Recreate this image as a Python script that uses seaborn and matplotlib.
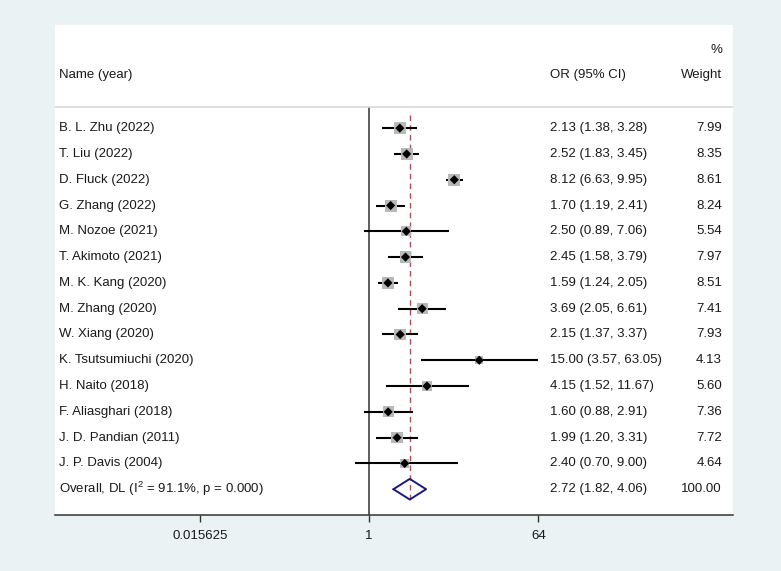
import numpy as np
import pandas as pd
import matplotlib
matplotlib.use("Agg")
import matplotlib.pyplot as plt
import matplotlib.transforms as mtransforms
import seaborn as sns

# study data
studies = ["B. L. Zhu (2022)", "T. Liu (2022)", "D. Fluck (2022)", "G. Zhang (2022)",
           "M. Nozoe (2021)", "T. Akimoto (2021)", "M. K. Kang (2020)", "M. Zhang (2020)",
           "W. Xiang (2020)", "K. Tsutsumiuchi (2020)", "H. Naito (2018)",
           "F. Aliasghari (2018)", "J. D. Pandian (2011)", "J. P. Davis (2004)"]
odds = [2.13, 2.52, 8.12, 1.70, 2.50, 2.45, 1.59, 3.69, 2.15, 15.00, 4.15, 1.60, 1.99, 2.40]
lower = [1.38, 1.83, 6.63, 1.19, 0.89, 1.58, 1.24, 2.05, 1.37, 3.57, 1.52, 0.88, 1.20, 0.70]
upper = [3.28, 3.45, 9.95, 2.41, 7.06, 3.79, 2.05, 6.61, 3.37, 63.05, 11.67, 2.91, 3.31, 9.00]
weights = [7.99, 8.35, 8.61, 8.24, 5.54, 7.97, 8.51, 7.41, 7.93, 4.13, 5.60, 7.36, 7.72, 4.64]

overall_label = "Overall, DL (I$^{2}$ = 91.1%, p = 0.000)"
overall_or, overall_lo, overall_hi = 2.72, 1.82, 4.06
overall_weight = "100.00"

tick_values = [0.015625, 1, 64]
tick_labels = ["0.015625", "1", "64"]

df = pd.DataFrame({"study": studies, "OR": odds, "lo": lower, "hi": upper, "w": weights})
df["row"] = np.arange(len(df))
overall_row = len(df)

sns.set_style("white")
plt.rcParams["font.family"] = ["Liberation Sans", "DejaVu Sans"]
plt.rcParams["mathtext.fontset"] = "custom"
plt.rcParams["mathtext.rm"] = "Liberation Sans"
plt.rcParams["mathtext.it"] = "Liberation Sans:italic"

bg = "#eaf2f3"
fig = plt.figure(figsize=(7.81, 5.71), dpi=100, facecolor=bg)
ax = fig.add_axes([55 / 781, 1 - 515 / 571, (733 - 55) / 781, (515 - 25) / 571])
ax.set_facecolor("white")
ax.set_xscale("log", base=2)
ax.set_xlim(2 ** -11.13, 2 ** 12.9)
ax.set_ylim(15.0, -4.0)

fs = 9.5
txt = "#1a1a1a"
# confidence intervals
ax.hlines(df["row"], df["lo"], df["hi"], color="black", lw=1.5, zorder=2)
# weight boxes
sns.scatterplot(data=df, x="OR", y="row", marker="s", s=df["w"] * 9,
                color="#b8b8b8", edgecolor="none", ax=ax, legend=False, zorder=3)
# point estimates
sns.scatterplot(data=df, x="OR", y="row", marker="D", s=22, color="black",
                edgecolor="none", ax=ax, legend=False, zorder=4)

# overall diamond
dx = [overall_lo, overall_or, overall_hi, overall_or, overall_lo]
dy = [overall_row, overall_row - 0.4, overall_row, overall_row + 0.4, overall_row]
ax.plot(dx, dy, color="#1a1a80", lw=1.4, zorder=4)

# reference lines
ax.vlines(1, -0.81, 15.0, color="#333333", lw=1.1, zorder=1)
ax.vlines(overall_or, -0.5, 14.5, color="#b04c5a", lw=1.0, ls=(0, (4, 3)), zorder=1)

# header separator
ax.axhline(-0.81, color="#d8d8d8", lw=1.2, zorder=1)

# text columns
trans = mtransforms.blended_transform_factory(fig.transFigure, ax.transData)
def px(x):
    return x / 781

for _, r in df.iterrows():
    ax.text(px(59), r["row"], r["study"], transform=trans, fontsize=fs, va="center", ha="left", color=txt)
    ax.text(px(550), r["row"], f"{r['OR']:.2f} ({r['lo']:.2f}, {r['hi']:.2f})",
            transform=trans, fontsize=fs, va="center", ha="left", color=txt)
    ax.text(px(722), r["row"], f"{r['w']:.2f}", transform=trans, fontsize=fs, va="center",
            ha="right", color=txt)

ax.text(px(59), overall_row, overall_label, transform=trans, fontsize=fs, va="center", ha="left", color=txt)
ax.text(px(550), overall_row, f"{overall_or:.2f} ({overall_lo:.2f}, {overall_hi:.2f})",
        transform=trans, fontsize=fs, va="center", ha="left", color=txt)
ax.text(px(722), overall_row, overall_weight, transform=trans, fontsize=fs, va="center", ha="right", color=txt)

# headers
ax.text(px(59), -2.05, "Name (year)", transform=trans, fontsize=fs, va="center", ha="left", color=txt)
ax.text(px(550), -2.05, "OR (95% CI)", transform=trans, fontsize=fs, va="center", ha="left", color=txt)
ax.text(px(722), -2.05, "Weight", transform=trans, fontsize=fs, va="center", ha="right", color=txt)
ax.text(px(722), -3.02, "%", transform=trans, fontsize=fs, va="center", ha="right", color=txt)

# axes styling
for side in ["top", "right", "left"]:
    ax.spines[side].set_visible(False)
ax.spines["bottom"].set_color("#333333")
ax.spines["bottom"].set_linewidth(1.1)
ax.set_yticks([])
ax.set_xticks(tick_values)
ax.set_xticklabels(tick_labels, fontsize=fs, color=txt)
ax.minorticks_off()
ax.tick_params(axis="x", bottom=True, length=5, width=1.0, color="#333333", pad=6)
ax.set_xlabel("")
ax.set_ylabel("")

fig.savefig("out.png", dpi=100, facecolor=bg)
